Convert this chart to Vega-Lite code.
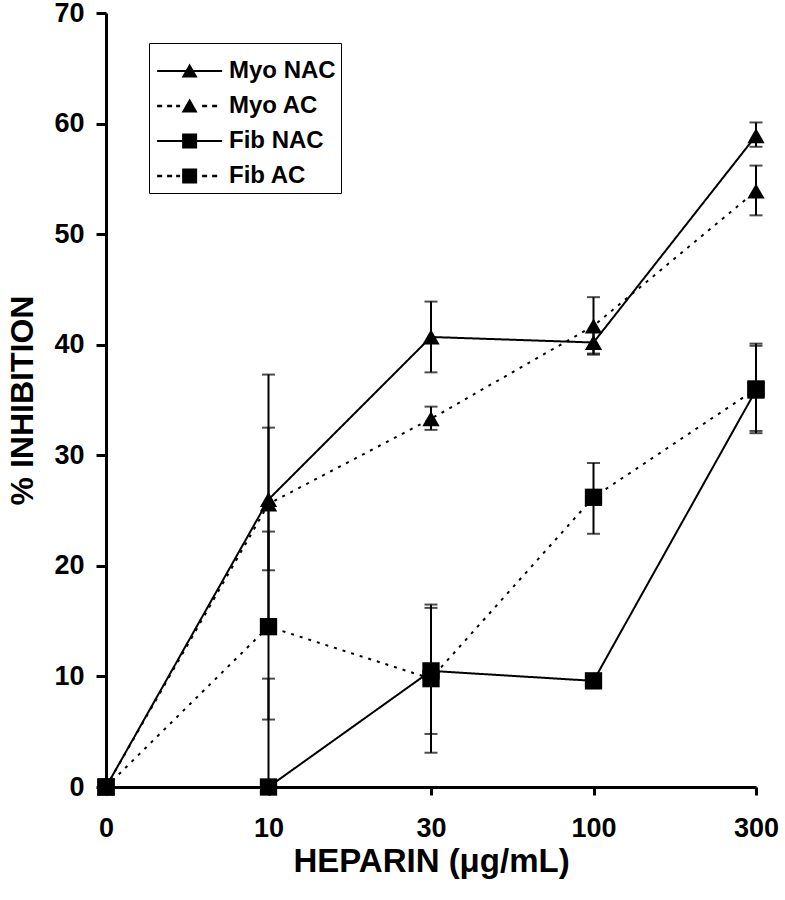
{
  "$schema": "https://vega.github.io/schema/vega-lite/v6.json",
  "width": 650,
  "height": 774,
  "autosize": "none",
  "padding": {"left": 106, "top": 13, "right": 29, "bottom": 113},
  "background": "white",
  "config": {
    "font": "Liberation Sans",
    "view": {"stroke": null},
    "axis": {
      "grid": false,
      "domainColor": "black",
      "domainWidth": 3,
      "tickColor": "black",
      "tickWidth": 3,
      "labelColor": "black",
      "labelFont": "Liberation Sans",
      "labelFontWeight": "bold",
      "labelFontSize": 27,
      "titleColor": "black",
      "titleFont": "Liberation Sans",
      "titleFontWeight": "bold",
      "titleFontSize": 32
    }
  },
  "data": {
    "values": [
      {"heparin": "0", "series": "Myo NAC", "value": 0, "lo": null, "hi": null},
      {"heparin": "10", "series": "Myo NAC", "value": 26.0, "lo": 14.7, "hi": 37.3},
      {"heparin": "30", "series": "Myo NAC", "value": 40.7, "lo": 37.5, "hi": 43.9},
      {"heparin": "100", "series": "Myo NAC", "value": 40.2, "lo": 39.2, "hi": 41.2},
      {"heparin": "300", "series": "Myo NAC", "value": 58.9, "lo": 57.9, "hi": 60.1},
      {"heparin": "0", "series": "Myo AC", "value": 0, "lo": null, "hi": null},
      {"heparin": "10", "series": "Myo AC", "value": 25.6, "lo": 19.6, "hi": 32.5},
      {"heparin": "30", "series": "Myo AC", "value": 33.3, "lo": 32.3, "hi": 34.4},
      {"heparin": "100", "series": "Myo AC", "value": 41.7, "lo": 39.1, "hi": 44.3},
      {"heparin": "300", "series": "Myo AC", "value": 53.9, "lo": 51.7, "hi": 56.2},
      {"heparin": "0", "series": "Fib NAC", "value": 0, "lo": null, "hi": null},
      {"heparin": "10", "series": "Fib NAC", "value": 0, "lo": 0, "hi": 9.8},
      {"heparin": "30", "series": "Fib NAC", "value": 10.5, "lo": 4.8, "hi": 16.2},
      {"heparin": "100", "series": "Fib NAC", "value": 9.6, "lo": null, "hi": null},
      {"heparin": "300", "series": "Fib NAC", "value": 35.9, "lo": 32.0, "hi": 40.1},
      {"heparin": "0", "series": "Fib AC", "value": 0, "lo": null, "hi": null},
      {"heparin": "10", "series": "Fib AC", "value": 14.5, "lo": 6.1, "hi": 23.1},
      {"heparin": "30", "series": "Fib AC", "value": 9.8, "lo": 3.1, "hi": 16.5},
      {"heparin": "100", "series": "Fib AC", "value": 26.2, "lo": 22.9, "hi": 29.3},
      {"heparin": "300", "series": "Fib AC", "value": 36.0, "lo": 32.2, "hi": 39.9}
    ]
  },
  "encoding": {
    "x": {
      "field": "heparin",
      "type": "ordinal",
      "sort": ["0", "10", "30", "100", "300"],
      "scale": {"type": "point", "padding": 0},
      "axis": {
        "title": "HEPARIN (μg/mL)",
        "titleFontSize": 33,
        "labelAngle": 0,
        "tickSize": 8,
        "labelPadding": 20,
        "titlePadding": 4
      }
    }
  },
  "layer": [
    {
      "mark": {"type": "line", "color": "black", "strokeWidth": 2},
      "encoding": {
        "y": {
          "field": "value",
          "type": "quantitative",
          "scale": {"domain": [0, 70], "nice": false},
          "axis": {
            "title": "% INHIBITION",
            "values": [0, 10, 20, 30, 40, 50, 60, 70],
            "tickSize": 10,
            "labelPadding": 12,
            "titlePadding": 14
          }
        },
        "strokeDash": {
          "field": "series",
          "type": "nominal",
          "scale": {"domain": ["Myo NAC", "Myo AC", "Fib NAC", "Fib AC"], "range": [[1, 0], [3, 6], [1, 0], [3, 6]]},
          "legend": null
        }
      }
    },
    {
      "mark": {"type": "rule", "color": "black", "strokeWidth": 2},
      "encoding": {
        "y": {"field": "lo", "type": "quantitative"},
        "y2": {"field": "hi"}
      }
    },
    {
      "mark": {"type": "tick", "color": "black", "size": 13, "thickness": 2, "orient": "horizontal"},
      "encoding": {"y": {"field": "lo", "type": "quantitative"}}
    },
    {
      "mark": {"type": "tick", "color": "black", "size": 13, "thickness": 2, "orient": "horizontal"},
      "encoding": {"y": {"field": "hi", "type": "quantitative"}}
    },
    {
      "mark": {"type": "point", "filled": true, "color": "black", "opacity": 1},
      "encoding": {
        "y": {"field": "value", "type": "quantitative"},
        "shape": {
          "field": "series",
          "type": "nominal",
          "scale": {"domain": ["Myo NAC", "Myo AC", "Fib NAC", "Fib AC"], "range": ["triangle-up", "triangle-up", "square", "square"]},
          "legend": null
        },
        "size": {
          "field": "series",
          "type": "nominal",
          "scale": {"domain": ["Myo NAC", "Myo AC", "Fib NAC", "Fib AC"], "range": [300, 300, 250, 250]},
          "legend": null
        }
      }
    },
    {
      "transform": [{"filter": "datum.value > 1000"}],
      "mark": {"type": "point", "filled": true, "color": "black", "size": 2093, "strokeWidth": 0, "opacity": 1},
      "encoding": {
        "y": {"field": "value", "type": "quantitative"},
        "shape": {
          "field": "series",
          "type": "nominal",
          "scale": {
            "domain": ["Myo NAC", "Myo AC", "Fib NAC", "Fib AC"],
            "range": [
              "M-0.869,-0.044H1.973V0.044H-0.869ZM0.202,0.284L0.552,-0.328L0.902,0.284Z",
              "M-0.869,-0.052H-0.650V0.052H-0.869ZM-0.432,-0.052H-0.213V0.052H-0.432ZM-0.038,-0.052H0.137V0.052H-0.038ZM1.098,-0.052H1.317V0.052H1.098ZM1.536,-0.052H1.755V0.052H1.536ZM0.202,0.284L0.552,-0.328L0.902,0.284Z",
              "M-0.869,-0.044H1.973V0.044H-0.869ZM0.224,-0.328H0.880V0.328H0.224Z",
              "M-0.869,-0.052H-0.650V0.052H-0.869ZM-0.432,-0.052H-0.213V0.052H-0.432ZM-0.038,-0.052H0.137V0.052H-0.038ZM1.098,-0.052H1.317V0.052H1.098ZM1.536,-0.052H1.755V0.052H1.536ZM0.224,-0.328H0.880V0.328H0.224Z"
            ]
          },
          "legend": {
            "title": null,
            "orient": "none",
            "legendX": 43,
            "legendY": 30,
            "labelFont": "Liberation Sans",
            "labelFontSize": 24,
            "labelFontWeight": "bold",
            "labelColor": "black",
            "labelLimit": 400,
            "labelOffset": 29,
            "strokeColor": "black",
            "padding": 5,
            "rowPadding": 0,
            "symbolSize": 2093,
            "symbolStrokeWidth": 0,
            "symbolFillColor": "black",
            "symbolOpacity": 1,
            "encode": {
              "legend": {"update": {"stroke": {"value": "black"}, "strokeWidth": {"value": 2}}},
              "symbols": {"update": {"fill": {"value": "black"}, "strokeWidth": {"value": 0}, "opacity": {"value": 1}}}
            }
          }
        }
      }
    }
  ],
  "resolve": {"scale": {"shape": "independent", "strokeDash": "independent", "size": "independent"}}
}
